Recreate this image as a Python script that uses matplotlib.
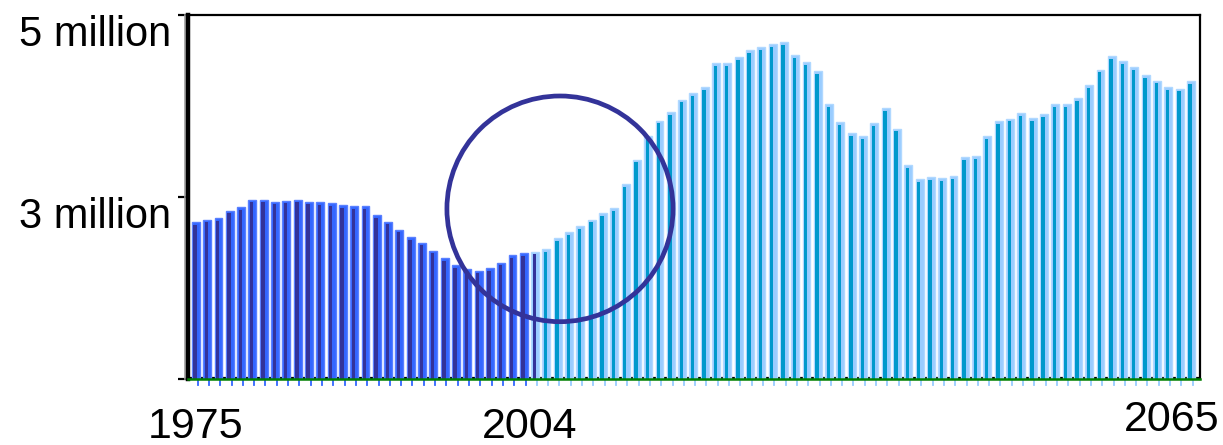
import numpy as np
import matplotlib.pyplot as plt
from matplotlib.patches import Ellipse

plt.rcParams['font.family'] = ['Liberation Sans', 'DejaVu Sans']

# yearly totals, millions
years = np.arange(1975, 2064)
recorded = [2.72, 2.75, 2.77, 2.85, 2.89, 2.97, 2.97, 2.95, 2.96, 2.97,
            2.95, 2.94, 2.93, 2.91, 2.90, 2.90, 2.80, 2.73, 2.64, 2.56,
            2.50, 2.41, 2.33, 2.25, 2.21, 2.19, 2.22, 2.28, 2.36, 2.38]
projected = [2.40, 2.43, 2.55, 2.61, 2.68, 2.75, 2.82, 2.88, 3.14, 3.41,
             3.67, 3.84, 3.93, 4.07, 4.14, 4.21, 4.47, 4.47, 4.54, 4.61,
             4.65, 4.68, 4.70, 4.56, 4.48, 4.38, 4.02, 3.82, 3.70, 3.67,
             3.81, 3.98, 3.75, 3.35, 3.20, 3.22, 3.21, 3.23, 3.44, 3.45,
             3.67, 3.83, 3.86, 3.92, 3.87, 3.91, 4.02, 4.02, 4.09, 4.23,
             4.40, 4.55, 4.49, 4.43, 4.34, 4.28, 4.21, 4.19, 4.27]
values = np.array(recorded + projected) * 1e6
last_recorded = 2004

year_labels = ["1975", "2004", "2065"]
value_labels = ["3 million", "5 million"]

fig = plt.figure(figsize=(12.23, 4.45), dpi=100)
ax = fig.add_axes([0.1537, 0.1483, 0.8275, 0.818])

base = 1.0e6
past = years <= last_recorded
outer_col = np.where(past, '#3366ff', '#99ccff')
inner_col = np.where(years <= last_recorded + 1, '#333399', '#0099cc')
rim_col = np.where(past, '#5a80ff', '#b0d8ff')

# black dashed floor line shows through the gaps between bars
ax.axhline(base + 0.012e6, color='black', lw=1.6, zorder=0.5)

ax.bar(years, values - base, bottom=base, width=0.7, color=outer_col,
       edgecolor=rim_col, linewidth=1.0, zorder=2)
ax.bar(years - 0.07, values - base - 0.03e6, bottom=base, width=0.3,
       color=inner_col, linewidth=0, zorder=3)

# small marks under every bar
for x, c in zip(years, outer_col):
    ax.plot([x + 0.15, x + 0.15], [base, base - 0.07e6], color=c, lw=1.3,
            clip_on=False, zorder=1)

ax.add_patch(Ellipse((2007.2, 2.87e6), 20.0, 2.48e6, fill=False,
                     edgecolor='#333399', lw=3.4, zorder=5))

ax.set_xlim(1974.3, 2063.8)
ax.set_ylim(base, 5.0e6)

for side in ['top', 'right']:
    ax.spines[side].set_color('black')
    ax.spines[side].set_linewidth(1.6)
ax.spines['left'].set_color('black')
ax.spines['left'].set_linewidth(3.2)
ax.spines['bottom'].set_color('#008000')
ax.spines['bottom'].set_linewidth(1.8)
ax.spines['bottom'].set_zorder(4)
# thin grey line beside the left axis
ax.axvline(1974.3 - 0.3, color='#a0a0a0', lw=1.2, clip_on=False)

ax.set_xticks([])
ax.set_yticks([1e6, 3e6, 5e6])
ax.set_yticklabels(['', value_labels[0], value_labels[1]], fontsize=30)
ax.tick_params(axis='y', length=7, width=1.6, pad=5)
for lab in ax.get_yticklabels():
    lab.set_verticalalignment('top')
for t, c in zip(ax.yaxis.get_major_ticks(), ['#3366ff', '#3366ff', 'black']):
    t.tick1line.set_color(c)

lab_x = [1975, 2004.5, 2061.3]
lab_y = [-0.163, -0.163, -0.143]
for s, x, y in zip(year_labels, lab_x, lab_y):
    ax.text(x, y, s, transform=ax.get_xaxis_transform(), ha='center',
            va='baseline', fontsize=31)

fig.savefig('out.png', dpi=100)
